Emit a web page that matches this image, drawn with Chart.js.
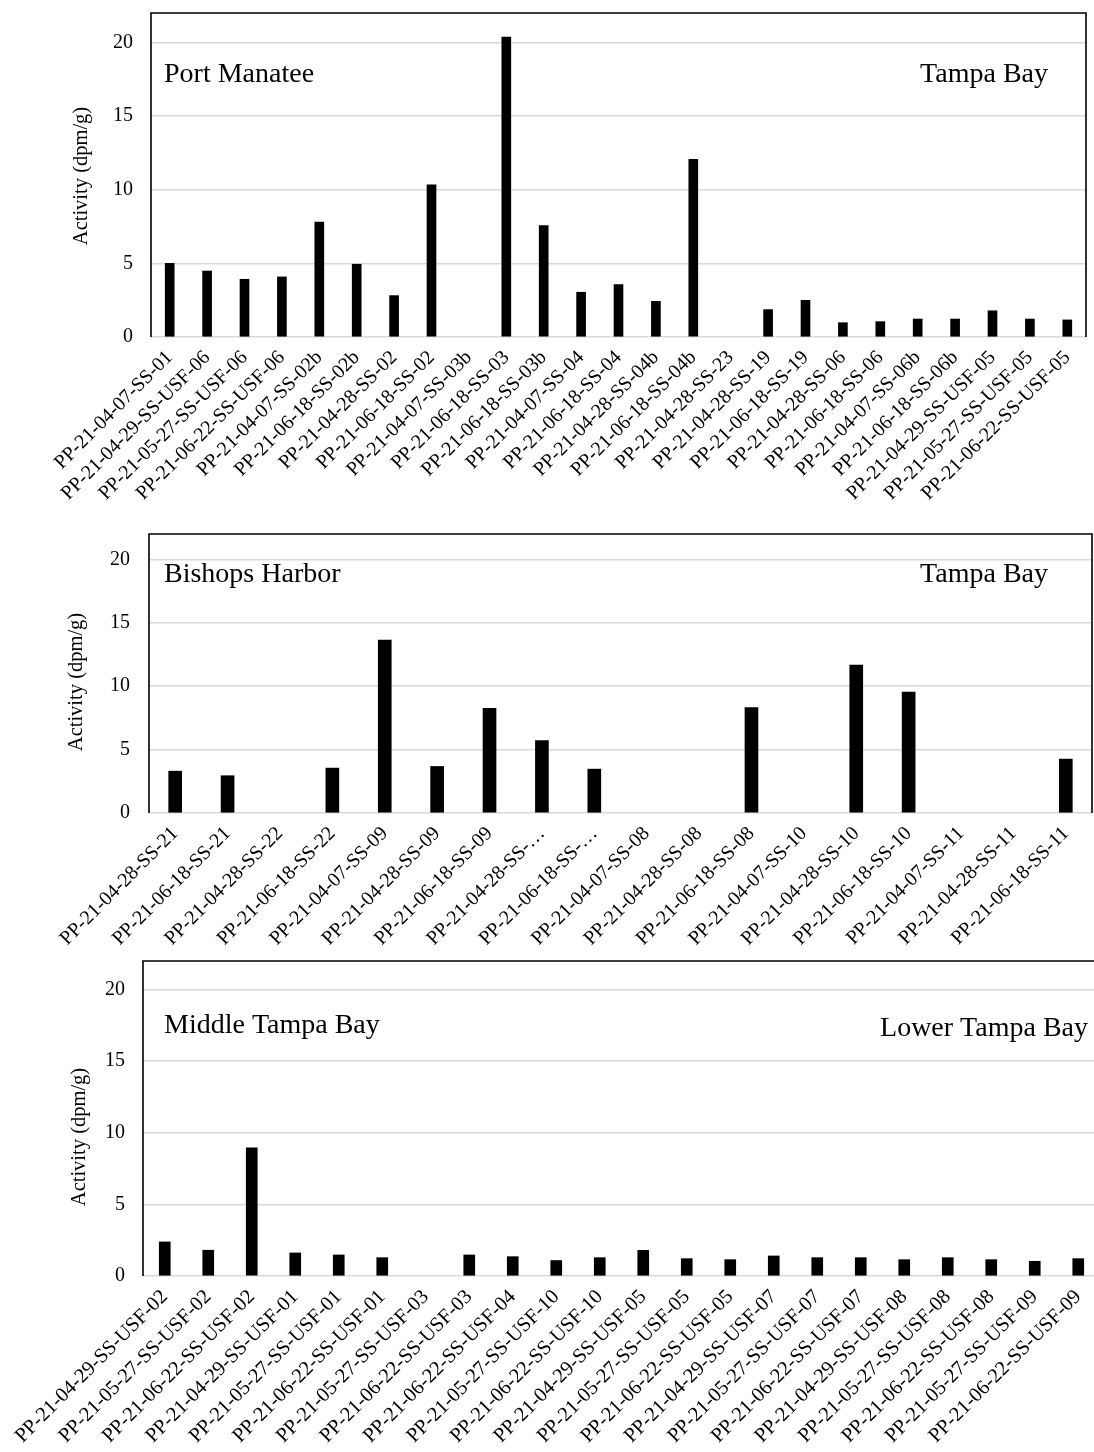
<!DOCTYPE html>
<html>
<head>
<meta charset="utf-8">
<script src="https://cdn.jsdelivr.net/npm/chart.js@4.4.0/dist/chart.umd.min.js"></script>
<style>
  html, body { margin: 0; padding: 0; background: #fff; overflow: hidden; }
  body { width: 1094px; height: 1452px; position: relative; }
  canvas { position: absolute; left: 0; }
</style>
</head>
<body>
<canvas id="c1" width="1094" height="520" style="top:0px"></canvas>
<canvas id="c2" width="1094" height="441" style="top:520px"></canvas>
<canvas id="c3" width="1110" height="497" style="top:955px"></canvas>
<script>
const SERIF = '"Liberation Serif", "Times New Roman", serif';
const Y_TITLE = 'Activity (dpm/g)';

// Port Manatee
const MANATEE_LABELS = [
  'PP-21-04-07-SS-01', 'PP-21-04-29-SS-USF-06', 'PP-21-05-27-SS-USF-06', 'PP-21-06-22-SS-USF-06',
  'PP-21-04-07-SS-02b', 'PP-21-06-18-SS-02b', 'PP-21-04-28-SS-02', 'PP-21-06-18-SS-02',
  'PP-21-04-07-SS-03b', 'PP-21-06-18-SS-03', 'PP-21-06-18-SS-03b', 'PP-21-04-07-SS-04',
  'PP-21-06-18-SS-04', 'PP-21-04-28-SS-04b', 'PP-21-06-18-SS-04b', 'PP-21-04-28-SS-23',
  'PP-21-04-28-SS-19', 'PP-21-06-18-SS-19', 'PP-21-04-28-SS-06', 'PP-21-06-18-SS-06',
  'PP-21-04-07-SS-06b', 'PP-21-06-18-SS-06b', 'PP-21-04-29-SS-USF-05', 'PP-21-05-27-SS-USF-05',
  'PP-21-06-22-SS-USF-05'
];
const MANATEE_VALUES = [
  5.0, 4.48, 3.92, 4.08, 7.81, 4.94, 2.81, 10.33, null, 20.36, 7.57, 3.04, 3.56,
  2.42, 12.07, null, 1.86, 2.49, 0.97, 1.04, 1.22, 1.22, 1.78, 1.22, 1.16
];

// Bishops Harbor
const BISHOPS_LABELS = [
  'PP-21-04-28-SS-21', 'PP-21-06-18-SS-21', 'PP-21-04-28-SS-22', 'PP-21-06-18-SS-22',
  'PP-21-04-07-SS-09', 'PP-21-04-28-SS-09', 'PP-21-06-18-SS-09', 'PP-21-04-28-SS-\u2026',
  'PP-21-06-18-SS-\u2026', 'PP-21-04-07-SS-08', 'PP-21-04-28-SS-08', 'PP-21-06-18-SS-08',
  'PP-21-04-07-SS-10', 'PP-21-04-28-SS-10', 'PP-21-06-18-SS-10', 'PP-21-04-07-SS-11',
  'PP-21-04-28-SS-11', 'PP-21-06-18-SS-11'
];
const BISHOPS_VALUES = [
  3.30, 2.94, null, 3.54, 13.63, 3.67, 8.26, 5.71, 3.46, null, null, 8.31,
  null, 11.66, 9.54, null, null, 4.25
];

// Middle / Lower Tampa Bay
const MIDDLE_LABELS = [
  'PP-21-04-29-SS-USF-02', 'PP-21-05-27-SS-USF-02', 'PP-21-06-22-SS-USF-02', 'PP-21-04-29-SS-USF-01',
  'PP-21-05-27-SS-USF-01', 'PP-21-06-22-SS-USF-01', 'PP-21-05-27-SS-USF-03', 'PP-21-06-22-SS-USF-03',
  'PP-21-06-22-SS-USF-04', 'PP-21-05-27-SS-USF-10', 'PP-21-06-22-SS-USF-10', 'PP-21-04-29-SS-USF-05',
  'PP-21-05-27-SS-USF-05', 'PP-21-06-22-SS-USF-05', 'PP-21-04-29-SS-USF-07', 'PP-21-05-27-SS-USF-07',
  'PP-21-06-22-SS-USF-07', 'PP-21-04-29-SS-USF-08', 'PP-21-05-27-SS-USF-08', 'PP-21-06-22-SS-USF-08',
  'PP-21-05-27-SS-USF-09', 'PP-21-06-22-SS-USF-09'
];
const MIDDLE_VALUES = [
  2.38, 1.80, 8.95, 1.61, 1.47, 1.28, null, 1.47, 1.35, 1.08, 1.28, 1.79,
  1.21, 1.14, 1.40, 1.28, 1.28, 1.14, 1.28, 1.14, 1.03, 1.21
];

const Y_MAX = 22;
const Y_STEP = 5;

// marco (arriba/izq/der), titulo del eje y, y los dos nombres dentro del grafico
const marcoPlugin = {
  id: 'marco',
  afterDraw(chart, args, opts) {
    const { ctx, chartArea: a } = chart;
    ctx.save();
    ctx.strokeStyle = '#000';
    ctx.lineWidth = 1.6;
    ctx.beginPath();
    ctx.moveTo(a.left, a.bottom);
    ctx.lineTo(a.left, a.top);
    ctx.lineTo(a.right, a.top);
    ctx.lineTo(a.right, a.bottom);
    ctx.stroke();

    ctx.fillStyle = '#000';
    ctx.font = '28px ' + SERIF;
    ctx.textBaseline = 'alphabetic';
    ctx.textAlign = 'left';
    ctx.fillText(opts.sitio, a.left + opts.sitioDx, a.top + opts.sitioDy);
    ctx.textAlign = 'right';
    ctx.fillText(opts.zona, a.right - opts.zonaDx, a.top + opts.zonaDy);

    // titulo vertical
    ctx.translate(opts.tituloX, opts.tituloY);
    ctx.rotate(-Math.PI / 2);
    ctx.font = '20.5px ' + SERIF;
    ctx.textAlign = 'center';
    ctx.textBaseline = 'middle';
    ctx.fillText(Y_TITLE, 0, 0);
    ctx.restore();
  }
};

function crearPanel(cfg) {
  const canvas = document.getElementById(cfg.id);
  return new Chart(canvas, {
    type: 'bar',
    data: {
      labels: cfg.labels,
      datasets: [{
        data: cfg.values,
        backgroundColor: '#000',
        borderWidth: 0,
        barThickness: cfg.barra
      }]
    },
    options: {
      responsive: false,
      animation: false,
      layout: { padding: { top: cfg.top, right: canvas.width - cfg.right, left: 0, bottom: 0 } },
      plugins: {
        legend: { display: false },
        tooltip: { enabled: false },
        marco: cfg.marco
      },
      scales: {
        x: {
          grid: { display: false, drawTicks: false },
          border: { display: false },
          ticks: {
            color: '#000',
            font: { family: SERIF, size: cfg.fuenteX },
            minRotation: 45,
            maxRotation: 45,
            autoSkip: false,
            padding: 9
          },
          afterFit: s => {
            s.height = cfg.ejeX;
            s.paddingLeft = 0;
            s.paddingRight = 0;
          }
        },
        y: {
          min: 0,
          max: Y_MAX,
          grid: { color: '#d9d9d9', lineWidth: 1.5, drawTicks: false },
          border: { display: false },
          ticks: {
            stepSize: Y_STEP,
            color: '#000',
            font: { family: SERIF, size: 20 },
            padding: cfg.tickPad
          },
          afterBuildTicks: s => { s.ticks = s.ticks.filter(t => t.value % Y_STEP === 0); },
          afterFit: s => {
            s.width = cfg.left;
            s.paddingTop = 0;
            s.paddingBottom = 0;
          }
        }
      }
    },
    plugins: [marcoPlugin]
  });
}

crearPanel({
  id: 'c1', labels: MANATEE_LABELS, values: MANATEE_VALUES, barra: 9, fuenteX: 20,
  top: 13, left: 151, right: 1086, ejeX: 520 - 337, tickPad: 18,
  marco: { sitio: 'Port Manatee', sitioDx: 13, sitioDy: 69, zona: 'Tampa Bay', zonaDx: 38, zonaDy: 69,
           tituloX: 82, tituloY: 176 }
});
crearPanel({
  id: 'c2', labels: BISHOPS_LABELS, values: BISHOPS_VALUES, barra: 13, fuenteX: 20,
  top: 14, left: 149, right: 1092, ejeX: 441 - 293, tickPad: 19,
  marco: { sitio: 'Bishops Harbor', sitioDx: 15, sitioDy: 48, zona: 'Tampa Bay', zonaDx: 44, zonaDy: 48,
           tituloX: 77, tituloY: 162 }
});
crearPanel({
  id: 'c3', labels: MIDDLE_LABELS, values: MIDDLE_VALUES, barra: 11, fuenteX: 20.5,
  top: 6, left: 143, right: 1100, ejeX: 497 - 321, tickPad: 18,
  marco: { sitio: 'Middle Tampa Bay', sitioDx: 21, sitioDy: 72, zona: 'Lower Tampa Bay', zonaDx: 12, zonaDy: 75,
           tituloX: 80, tituloY: 182 }
});
</script>
</body>
</html>
